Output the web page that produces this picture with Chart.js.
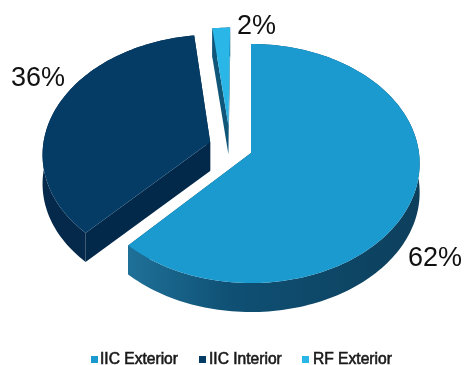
<!DOCTYPE html>
<html>
<head>
<meta charset="utf-8">
<style>
  html, body { margin: 0; padding: 0; background: #fff; }
  canvas { display: block; }
</style>
<script src="https://cdn.jsdelivr.net/npm/chart.js@4"></script>
</head>
<body>
<canvas id="chartPizza" width="464" height="365"></canvas>
<script>
const categorias = ['IIC Exterior', 'IIC Interior', 'RF Exterior'];
const valores = [62, 36, 2];

const coresTopo = ['#1a9acf', '#053c66', '#2bb6e8'];
const coresCorte = ['#0e4d70', '#03294a', '#0f5678'];
const coresBorda = [
  [[0, '#1f7199'], [0.35, '#0f5074'], [1, '#0d3f5c']],
  [[0, '#04294a'], [1, '#04294a']],
  [[0, '#0f5678'], [1, '#0f5678']],
];

// deslocamento de cada fatia no plano do disco (raio = 1)
const explosao = [[0, 0], [-0.245, -0.093], [-0.137, -0.236]];
const escalaFatia = [1, 1, 0.93];
const posRotulo = [[408, 266], [11, 86], [237, 34]];
const posLegenda = [[91, 100], [199, 209], [302, 313]];

const CENTRO = { x: 251, y: 153 };
const RAIO_X = 168, RAIO_Y = 118.6, PERSP = 0.088, ALTURA = 29;

// disco inclinado com leve perspectiva
function projeta(u, v) {
  const w = 1 - PERSP * v;
  return [CENTRO.x + RAIO_X * u / w, CENTRO.y + RAIO_Y * v / w];
}

function pontosArco(arc, i) {
  const [du, dv] = explosao[i], k = escalaFatia[i];
  const pts = [];
  const passos = Math.max(6, Math.round((arc.endAngle - arc.startAngle) * 40));
  for (let p = 0; p <= passos; p++) {
    const a = arc.startAngle + (arc.endAngle - arc.startAngle) * p / passos;
    pts.push(projeta(du + k * Math.cos(a), dv + k * Math.sin(a)));
  }
  return { pts, apice: projeta(du, dv) };
}

function poligono(ctx, pts, cor) {
  ctx.beginPath();
  pts.forEach((p, n) => n ? ctx.lineTo(p[0], p[1]) : ctx.moveTo(p[0], p[1]));
  ctx.closePath();
  ctx.fillStyle = cor;
  ctx.fill();
}

const desce = p => [p[0], p[1] + ALTURA];

const pizza3d = {
  id: 'pizza3d',
  beforeDatasetDraw(chart) {
    const ctx = chart.ctx;
    const arcos = chart.getDatasetMeta(0).data;
    // do fundo para a frente
    [2, 1, 0].forEach(i => {
      const { pts, apice } = pontosArco(arcos[i], i);
      const ini = pts[0], fim = pts[pts.length - 1];
      poligono(ctx, [apice, ini, desce(ini), desce(apice)], coresCorte[i]);
      poligono(ctx, [apice, fim, desce(fim), desce(apice)], coresCorte[i]);

      const xs = pts.map(p => p[0]);
      const grad = ctx.createLinearGradient(Math.max(...xs), 0, Math.min(...xs), 0);
      coresBorda[i].forEach(([s, c]) => grad.addColorStop(1 - s, c));
      poligono(ctx, pts.concat(pts.map(desce).reverse()), grad);

      poligono(ctx, [apice].concat(pts), coresTopo[i]);
    });
    return false;
  },
  afterDraw(chart) {
    const ctx = chart.ctx;
    ctx.save();
    ctx.textBaseline = 'alphabetic';
    ctx.textAlign = 'left';
    // percentuais
    ctx.font = "27px 'Liberation Sans', sans-serif";
    ctx.fillStyle = '#111';
    valores.forEach((v, i) => ctx.fillText(v + '%', posRotulo[i][0], posRotulo[i][1]));
    // legenda
    ctx.font = "15.6px 'Liberation Sans', sans-serif";
    ctx.lineWidth = 0.6;
    categorias.forEach((c, i) => {
      ctx.fillStyle = coresTopo[i];
      ctx.fillRect(posLegenda[i][0], 356, 7, 7);
      ctx.fillStyle = '#1a1a1a';
      ctx.strokeStyle = '#1a1a1a';
      ctx.fillText(c, posLegenda[i][1], 364);
      ctx.strokeText(c, posLegenda[i][1], 364);
    });
    ctx.restore();
  }
};

new Chart(document.getElementById('chartPizza'), {
  type: 'pie',
  data: { labels: categorias, datasets: [{ data: valores, backgroundColor: coresTopo }] },
  plugins: [pizza3d],
  options: {
    responsive: false,
    animation: false,
    plugins: { legend: { display: false }, tooltip: { enabled: false } },
  }
});
</script>
</body>
</html>
